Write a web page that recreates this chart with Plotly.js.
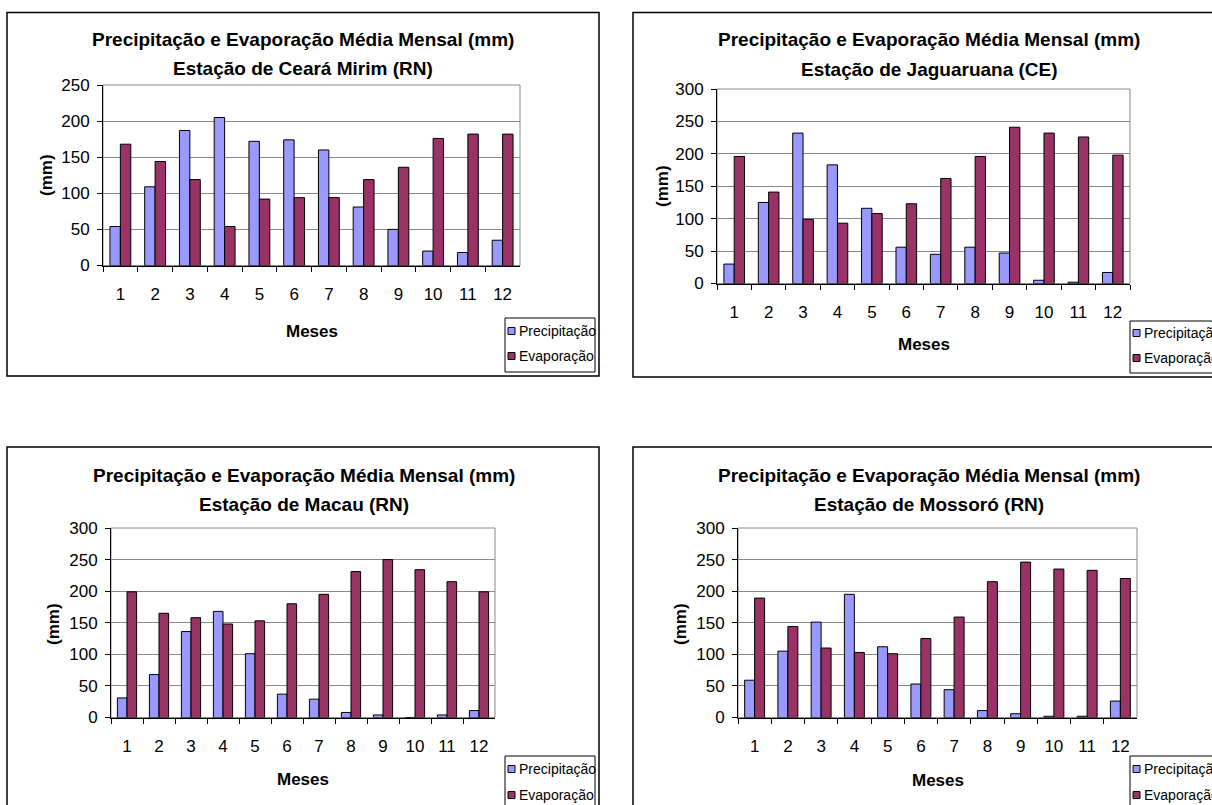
<!DOCTYPE html>
<html>
<head>
<meta charset="utf-8">
<script src="https://cdn.plot.ly/plotly-3.0.1.min.js"></script>
<style>
  html, body { margin: 0; padding: 0; background: #ffffff; }
  #chart { width: 1212px; height: 805px; }
</style>
</head>
<body>
<div id="chart"></div>
<script>
// Monthly mean precipitation and evaporation (mm) at four stations
const meses = ['1', '2', '3', '4', '5', '6', '7', '8', '9', '10', '11', '12'];

const precipCearaMirim = [54, 109, 187, 205, 172, 174, 160, 81, 50, 20, 18, 35];
const evapCearaMirim   = [168, 144, 119, 54, 92, 94, 94, 119, 136, 176, 182, 182];

const precipJaguaruana = [30, 125, 232, 183, 116, 56, 45, 56, 47, 5, 2, 17];
const evapJaguaruana   = [196, 141, 99, 93, 108, 123, 162, 196, 241, 232, 226, 198];

const precipMacau = [31, 68, 136, 168, 101, 37, 29, 8, 4, 0, 4, 11];
const evapMacau   = [199, 165, 158, 148, 153, 180, 195, 231, 250, 234, 215, 199];

const precipMossoro = [59, 105, 151, 195, 112, 53, 44, 11, 6, 2, 2, 26];
const evapMossoro   = [189, 144, 110, 103, 101, 125, 159, 215, 246, 235, 233, 220];

const tituloGeral = 'Precipitação e Evaporação Média Mensal (mm)';
const estacoes = ['Estação de Ceará Mirim (RN)', 'Estação de Jaguaruana (CE)',
                  'Estação de Macau (RN)', 'Estação de Mossoró (RN)'];
const seriesNomes = ['Precipitação', 'Evaporação'];
const tituloX = 'Meses';
const tituloY = '(mm)';

const seriesPorEstacao = [
  [precipCearaMirim, evapCearaMirim],
  [precipJaguaruana, evapJaguaruana],
  [precipMacau, evapMacau],
  [precipMossoro, evapMossoro]
];
const yMaximos = [250, 300, 300, 300];

// Page geometry (pixels on a 1212 x 805 page)
const W = 1212, H = 805;
const fx = v => v / W;
const fy = v => 1 - v / H;

// plot: [left, top, right, bottom]; frame: chart border; leg: [left, top, right, bottom, row1 y, row2 y]
const paineis = [
  { plot: [103, 85, 520, 265.5],  frame: [7, 12.5, 599, 376],  cx: 303, t1: 39.5, t2: 68,  mesesY: 331, mmX: 47,  mmY: 175,
    leg: [505, 318, 595, 372, 331, 356] },
  { plot: [717, 89, 1130, 283.5], frame: [633, 12.5, 1230, 377], cx: 929, t1: 39.5, t2: 70,  mesesY: 344, mmX: 662, mmY: 186,
    leg: [1130, 321, 1240, 373, 333, 358] },
  { plot: [111, 528, 495, 717.5], frame: [7, 447, 599, 830],   cx: 304, t1: 475,  t2: 504, mesesY: 779, mmX: 53,  mmY: 624,
    leg: [505, 756, 595, 830, 769, 795] },
  { plot: [738, 528, 1137, 717.5], frame: [633, 447, 1230, 830], cx: 929, t1: 475,  t2: 504, mesesY: 780, mmX: 680, mmY: 624,
    leg: [1130, 756, 1240, 830, 769, 795] }
];

const FONT = 'Liberation Sans, Arial, Helvetica, sans-serif';
const corPrecip = '#9999FF';
const corEvap = '#993366';
const cores = [corPrecip, corEvap];

const traces = [];
const layout = {
  width: W, height: H,
  margin: { l: 0, r: 0, t: 0, b: 0, pad: 0, autoexpand: false },
  paper_bgcolor: '#ffffff',
  plot_bgcolor: '#ffffff',
  font: { family: FONT, color: '#000000', size: 16 },
  barmode: 'group',
  bargap: 0.4,
  bargroupgap: 0,
  showlegend: false,
  shapes: [],
  annotations: []
};

paineis.forEach((p, i) => {
  const n = i === 0 ? '' : String(i + 1);
  const xa = 'x' + n, ya = 'y' + n;

  seriesPorEstacao[i].forEach((vals, s) => {
    traces.push({
      type: 'bar',
      name: seriesNomes[s],
      x: meses,
      y: vals,
      xaxis: xa,
      yaxis: ya,
      marker: { color: cores[s], line: { color: '#000000', width: 1 } },
      hoverinfo: 'x+y+name'
    });
  });

  layout['xaxis' + n] = {
    domain: [fx(p.plot[0]), fx(p.plot[2])],
    anchor: ya,
    type: 'category',
    tickson: 'boundaries',
    ticks: 'outside', ticklen: 5, tickwidth: 1, tickcolor: '#000000',
    showline: true, linecolor: '#000000', linewidth: 1,
    showgrid: false, zeroline: false,
    tickfont: { family: FONT, size: 17, color: '#000000' },
    ticklabelstandoff: 13,
    fixedrange: true
  };
  layout['yaxis' + n] = {
    domain: [fy(p.plot[3]), fy(p.plot[1])],
    anchor: xa,
    range: [0, yMaximos[i]],
    tick0: 0, dtick: 50,
    ticks: 'outside', ticklen: 5, tickwidth: 1, tickcolor: '#000000',
    showline: true, linecolor: '#000000', linewidth: 1,
    showgrid: true, gridcolor: '#888888', gridwidth: 1,
    zeroline: false,
    tickfont: { family: FONT, size: 17, color: '#000000' },
    ticklabelstandoff: 4,
    fixedrange: true
  };

  // plot-area border
  layout.shapes.push({
    type: 'rect', xref: xa + ' domain', yref: ya + ' domain',
    x0: 0, x1: 1, y0: 0, y1: 1,
    line: { color: '#888888', width: 1 }, layer: 'below'
  });
  // chart frame
  layout.shapes.push({
    type: 'rect', xref: 'paper', yref: 'paper',
    x0: fx(p.frame[0]), x1: fx(p.frame[2]), y0: fy(p.frame[3]), y1: fy(p.frame[1]),
    line: { color: '#000000', width: 1.5 }, layer: 'below'
  });

  // legend box with one swatch + label per series
  const L = p.leg;
  layout.shapes.push({
    type: 'rect', xref: 'paper', yref: 'paper',
    x0: fx(L[0]), x1: fx(L[2]), y0: fy(L[3]), y1: fy(L[1]),
    line: { color: '#000000', width: 1 }, fillcolor: '#ffffff', layer: 'above'
  });
  seriesNomes.forEach((nome, s) => {
    const yc = L[4 + s];
    layout.shapes.push({
      type: 'rect', xref: 'paper', yref: 'paper',
      x0: fx(L[0] + 3), x1: fx(L[0] + 10), y0: fy(yc + 3.5), y1: fy(yc - 3.5),
      line: { color: '#000000', width: 1 }, fillcolor: cores[s], layer: 'above'
    });
    layout.annotations.push({
      text: nome, xref: 'paper', yref: 'paper', x: fx(L[0] + 12), y: fy(yc),
      xanchor: 'left', yanchor: 'middle', showarrow: false,
      font: { family: FONT, size: 14, color: '#000000' }
    });
  });

  const cxPlot = (p.plot[0] + p.plot[2]) / 2;
  layout.annotations.push(
    { text: '<b>' + tituloGeral + '</b>', xref: 'paper', yref: 'paper', x: fx(p.cx), y: fy(p.t1),
      xanchor: 'center', yanchor: 'middle', showarrow: false, font: { family: FONT, size: 19 } },
    { text: '<b>' + estacoes[i] + '</b>', xref: 'paper', yref: 'paper', x: fx(p.cx), y: fy(p.t2),
      xanchor: 'center', yanchor: 'middle', showarrow: false, font: { family: FONT, size: 19 } },
    { text: '<b>' + tituloX + '</b>', xref: 'paper', yref: 'paper', x: fx(cxPlot), y: fy(p.mesesY),
      xanchor: 'center', yanchor: 'middle', showarrow: false, font: { family: FONT, size: 17 } },
    { text: '<b>' + tituloY + '</b>', xref: 'paper', yref: 'paper', x: fx(p.mmX), y: fy(p.mmY),
      xanchor: 'center', yanchor: 'middle', textangle: -90, showarrow: false, font: { family: FONT, size: 17 } }
  );
});

Plotly.newPlot('chart', traces, layout, { displayModeBar: false, staticPlot: true });
</script>
</body>
</html>
